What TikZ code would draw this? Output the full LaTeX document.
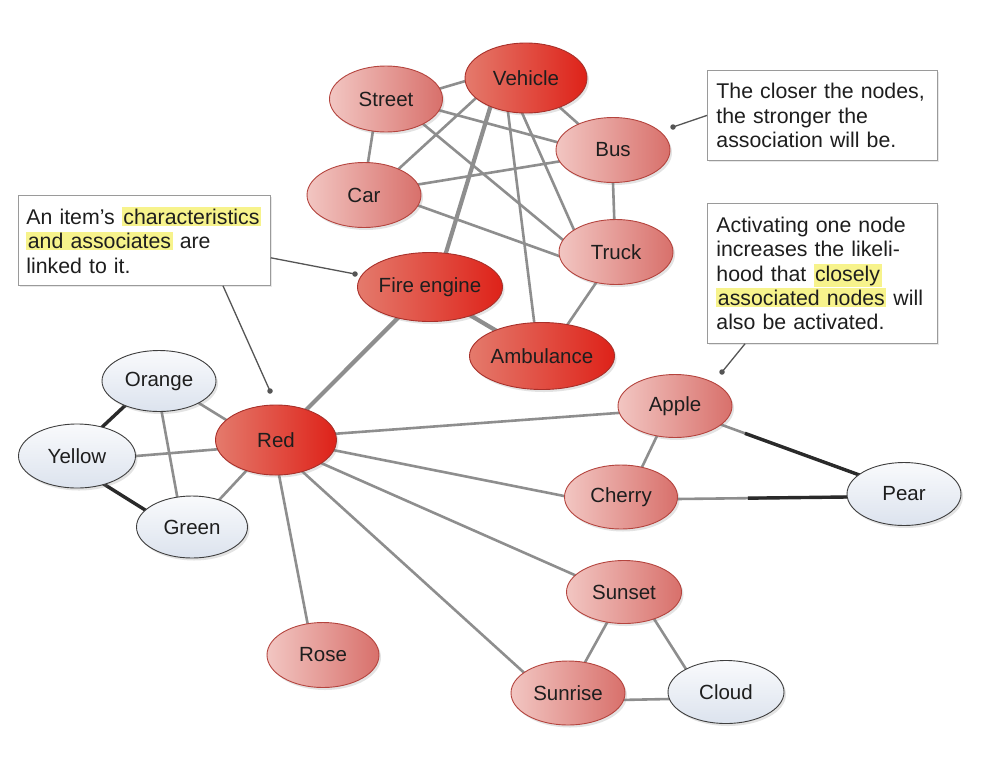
\documentclass[tikz,border=0pt]{standalone}
\usepackage{fontspec}
\setmainfont{Liberation Sans}
\usetikzlibrary{shapes.geometric,shadows,backgrounds,calc}
\definecolor{edgegray}{HTML}{8E8E8E}
\definecolor{darkc}{HTML}{2A2A2A}
\definecolor{textc}{HTML}{1E1E1E}
\definecolor{hotL}{HTML}{E47A6C}
\definecolor{hotR}{HTML}{DE2219}
\definecolor{hotD}{HTML}{A8302A}
\definecolor{warmL}{HTML}{F2C6C2}
\definecolor{warmR}{HTML}{D8706B}
\definecolor{warmD}{HTML}{B4443E}
\definecolor{coolT}{HTML}{F9FAFC}
\definecolor{coolB}{HTML}{DCE3EE}
\definecolor{coolD}{HTML}{3E3E3E}
\definecolor{boxD}{HTML}{9A9A9A}
\definecolor{hly}{HTML}{F7F38C}
\definecolor{leadc}{HTML}{555555}
\newcommand{\mycptfont}{\fontsize{20.5}{24}\selectfont}
\newcommand{\mycalloutfont}{\fontsize{21.3}{24.4}\selectfont}
\newcommand{\hlt}[1]{{\setlength{\fboxsep}{1.5pt}\colorbox{hly}{#1}}}
\begin{document}
\begin{tikzpicture}[x=1pt,y=-1pt,
  cnode/.style={ellipse, inner sep=0pt, minimum width=114pt, minimum height=64pt,
    font=\mycptfont, text=textc, line width=0.9pt,
    drop shadow={opacity=0.22, shadow xshift=2pt, shadow yshift=-2.5pt}},
  hotnode/.style={cnode, draw=hotD, left color=hotL, right color=hotR},
  warmnode/.style={cnode, draw=warmD, left color=warmL, right color=warmR},
  coolnode/.style={cnode, draw=coolD, top color=coolT, bottom color=coolB},
  edgeline/.style={draw=edgegray, line width=2.6pt, shorten <=-3pt, shorten >=-3pt},
  thickline/.style={draw=edgegray, line width=4.2pt, shorten <=-3pt, shorten >=-3pt},
  darkline/.style={draw=darkc, line width=3.4pt, shorten >=-3pt},
  calloutbox/.style={rectangle, draw=boxD, fill=white, line width=0.8pt, align=left,
    inner xsep=9pt, font=\mycalloutfont, text=textc, anchor=north west,
    drop shadow={opacity=0.18, shadow xshift=2pt, shadow yshift=-2pt}},
  leadline/.style={draw=leadc, line width=1.3pt},
  leaddot/.style={circle, fill=leadc, inner sep=0pt, minimum size=5.5pt}]
\useasboundingbox (0,0) rectangle (992,756);

% concept nodes
\node[hotnode, minimum width=122pt, minimum height=70pt] (Vehicle) at (526,78) {Vehicle};
\node[warmnode, minimum width=113pt, minimum height=66pt] (Street) at (386,99) {Street};
\node[warmnode, minimum height=65pt] (Bus) at (613,150) {Bus};
\node[warmnode, minimum height=65pt] (Car) at (364,195) {Car};
\node[warmnode, minimum height=65pt] (Truck) at (616,252) {Truck};
\node[hotnode, minimum width=123pt, minimum height=69pt] (Fire) at (430,287) {Fire engine};
\node[hotnode, minimum width=121pt, minimum height=67pt] (Ambulance) at (542,356) {Ambulance};
\node[hotnode, minimum width=121pt, minimum height=70pt] (Red) at (276,440) {Red};
\node[coolnode, minimum width=114pt, minimum height=61pt] (Orange) at (159,381) {Orange};
\node[coolnode, minimum width=117pt, minimum height=64pt] (Yellow) at (77,456) {Yellow};
\node[coolnode, minimum width=111pt, minimum height=62pt] (Green) at (192,527) {Green};
\node[warmnode, minimum height=63pt] (Apple) at (675,406) {Apple};
\node[warmnode, minimum width=113pt, minimum height=64pt] (Cherry) at (621,497) {Cherry};
\node[coolnode, minimum height=63pt] (Pear) at (904,494) {Pear};
\node[warmnode, minimum width=115pt, minimum height=63pt] (Sunset) at (624,592) {Sunset};
\node[warmnode, minimum width=112pt, minimum height=65pt] (Rose) at (323,655) {Rose};
\node[warmnode, minimum height=64pt] (Sunrise) at (568,693) {Sunrise};
\node[coolnode, minimum width=116pt, minimum height=63pt] (Cloud) at (726,692) {Cloud};

% callouts
\node[calloutbox, text width=236pt, inner xsep=8pt, minimum height=90pt] (box1) at (18,195)
  {\mbox{An item’s \hlt{characteristics}}\\\hlt{and associates} are\\linked to it.};
\node[calloutbox, text width=212pt, minimum height=90pt] (box2) at (707,70)
  {The closer the nodes,\\the stronger the\\association will be.};
\node[calloutbox, text width=212pt, minimum height=140pt] (box3) at (707,203)
  {Activating one node\\increases the likeli-\\hood that \hlt{closely}\\\mbox{\hlt{associated nodes} will}\\also be activated.};

\coordinate (d1) at (355,274);
\coordinate (d2) at (270,391);
\coordinate (d3) at (673,127);
\coordinate (d4) at (722,372);
\draw[leadline] ($(box1.south east)+(0,-28)$) -- (d1);
\draw[leadline] ($(box1.south west)+(205,0)$) -- (d2);
\draw[leadline] (box2.west) -- (d3);
\draw[leadline] ($(box3.south west)+(38,0)$) -- (d4);
\node[leaddot] (dot1) at (d1) {};
\node[leaddot] (dot2) at (d2) {};
\node[leaddot] (dot3) at (d3) {};
\node[leaddot] (dot4) at (d4) {};

\begin{scope}[on background layer]
\fill[white] (0,0) rectangle (992,756);
\draw[edgeline] (Street.11) -- (Vehicle.183);
\draw[edgeline] (Street.-12) -- (Bus.172);
\draw[edgeline] (Street.-34) -- (Truck.167);
\draw[edgeline] (Street.-112) -- (Car.83);
\draw[edgeline] (Vehicle.-158) -- (Car.37);
\draw[thickline] (Vehicle.-141) -- (Fire.65);
\draw[edgeline] (Vehicle.-118) -- (Ambulance.103);
\draw[edgeline] (Vehicle.-96) -- (Truck.152);
\draw[edgeline] (Vehicle.-41) -- (Bus.143);
\draw[edgeline] (Car.11) -- (Bus.192);
\draw[edgeline] (Car.-11) -- (Truck.184);
\draw[edgeline] (Bus.-90) -- (Truck.93);
\draw[edgeline] (Truck.-123) -- (Ambulance.51);
\draw[thickline] (Fire.-35) -- (Ambulance.151);
\draw[thickline] (Fire.-136) -- (Red.45);
\draw[edgeline] (Red.158) -- (Orange.-29);
\draw[edgeline] (Red.-171) -- (Yellow.0);
\draw[edgeline] (Red.-134) -- (Green.45);
\draw[edgeline] (Orange.-85) -- (Green.116);
\draw[darkline, shorten <=-3pt] (Orange.-144) -- (Yellow.49);
\draw[darkline, shorten <=-3pt] (Green.160) -- (Yellow.-46);
\draw[edgeline] (Red.6) -- (Apple.187);
\draw[edgeline] (Red.-10) -- (Cherry.179);
\draw[edgeline] (Red.-27) -- (Sunset.161);
\draw[edgeline] (Red.-50) -- (Sunrise.155);
\draw[edgeline] (Red.-85) -- (Rose.116);
\draw[edgeline] (Apple.-121) -- (Cherry.55);
\draw[edgeline] (Apple.-22) -- (Pear.157);
\draw[darkline, shorten <=25pt] (Apple.-22) -- (Pear.157);
\draw[edgeline] (Cherry.-2) -- (Pear.183);
\draw[darkline, shorten <=70pt] (Cherry.-2) -- (Pear.183);
\draw[edgeline] (Sunset.-119) -- (Sunrise.61);
\draw[edgeline] (Sunset.-42) -- (Cloud.150);
\draw[edgeline] (Sunrise.-7) -- (Cloud.187);
\end{scope}
\end{tikzpicture}
\end{document}
